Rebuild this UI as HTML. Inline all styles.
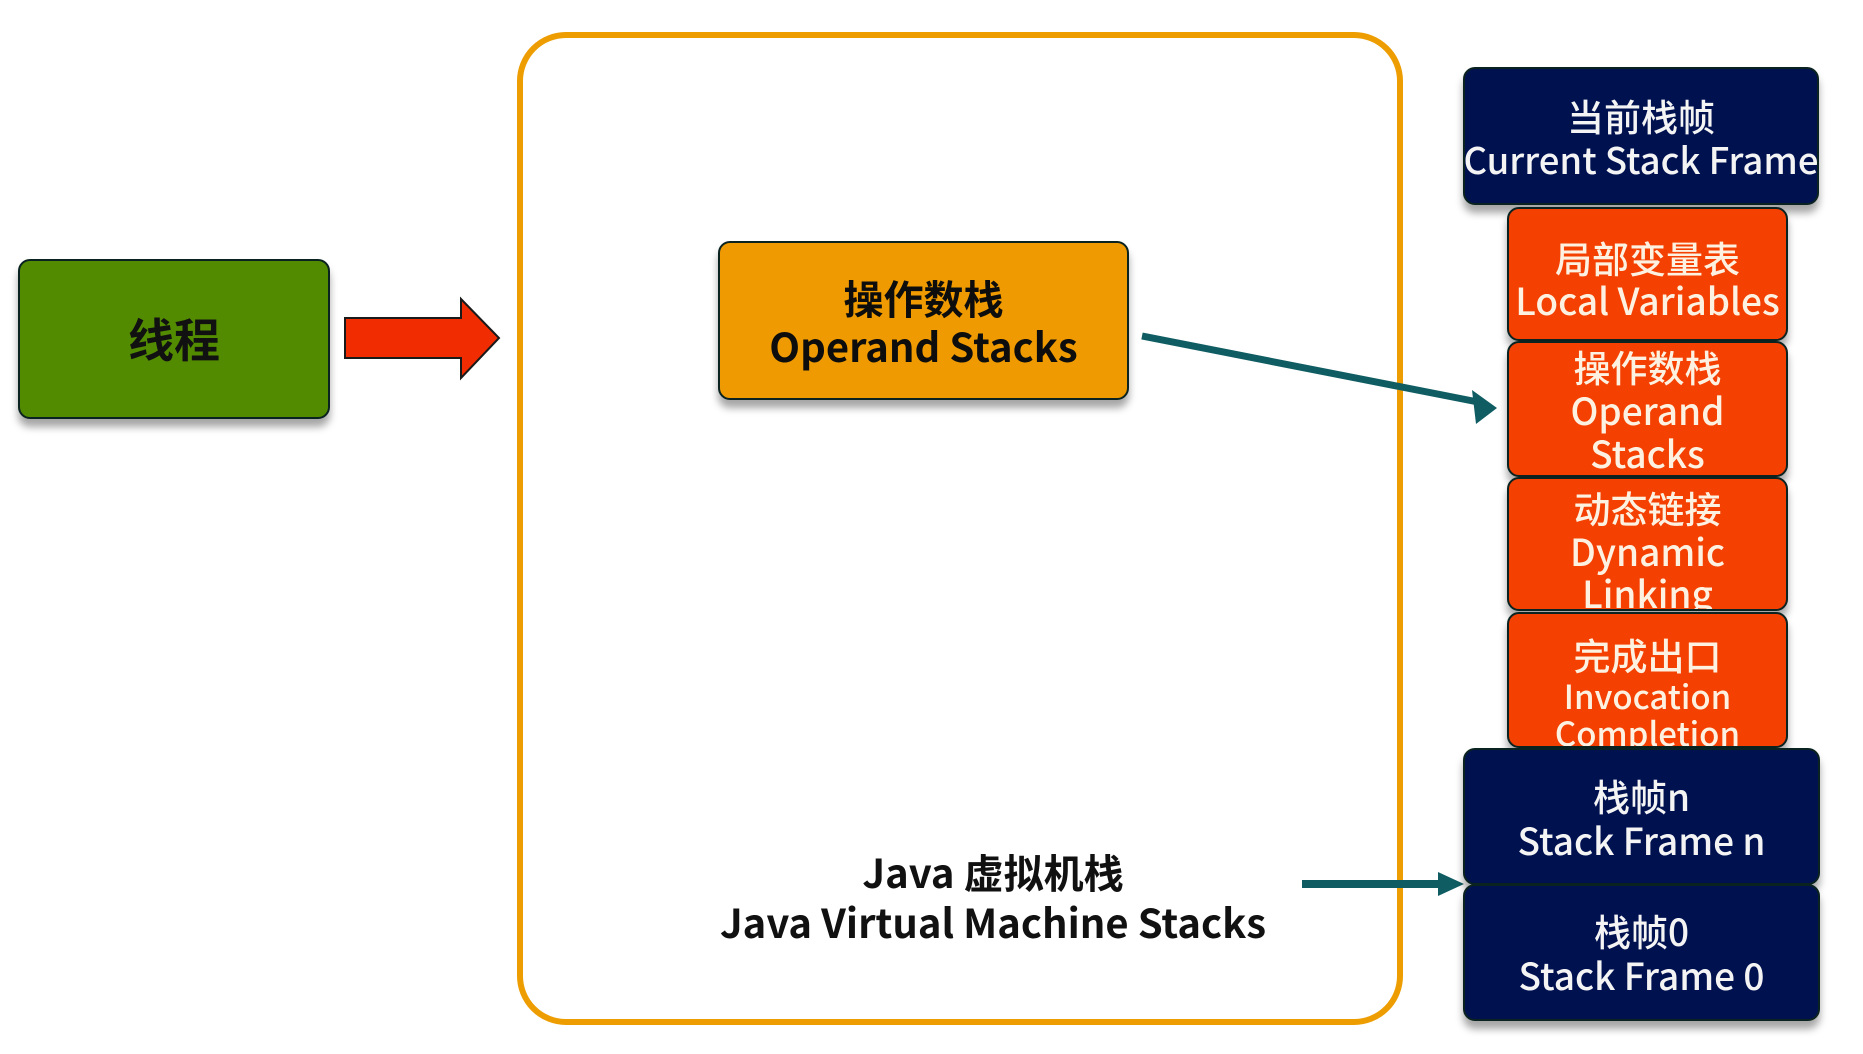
<!DOCTYPE html>
<html><head><meta charset="utf-8"><style>
html,body{margin:0;padding:0;background:#fff}
body{width:1863px;height:1054px;position:relative;overflow:hidden;font-family:"Noto Sans CJK SC","Liberation Sans",sans-serif}
.b{position:absolute;box-sizing:border-box;border:2.5px solid #0a2320;border-radius:12px;overflow:hidden;box-shadow:0 8px 8px rgba(0,0,0,.35)}
.l{position:absolute;left:-20px;right:-20px;text-align:center;height:44px;line-height:44px;white-space:nowrap}
.nv{background:#001150;color:#f4f4f4;font-size:37px;font-weight:500}
.rd{background:#f44000;color:#fdf2e2;font-size:37px;font-weight:500}
</style></head><body>
<svg width="1863" height="1054" style="position:absolute;left:0;top:0">
<rect x="520" y="35" width="880" height="987" rx="46" ry="46" fill="none" stroke="#ee9d00" stroke-width="6"/>
<polygon points="345,318 461,318 461,299 499,338 461,378 461,358 345,358" fill="#f02c00" stroke="#1a1a1a" stroke-width="2"/>
<line x1="1142" y1="336" x2="1478" y2="402" stroke="#0f5d62" stroke-width="7"/>
<polygon points="1497,408 1472,390 1476,424" fill="#0f5d62"/>
<line x1="1302" y1="884" x2="1445" y2="884" stroke="#0f5d62" stroke-width="8"/>
<polygon points="1464,884 1438,872 1438,896" fill="#0f5d62"/>
</svg>
<div class="b" style="left:18px;top:259px;width:312px;height:160px;background:#528b00;">
<div class="l" style="top:55px;font-size:46px;font-weight:bold;color:#111">线程</div></div>
<div class="b" style="left:718px;top:241px;width:411px;height:159px;background:#ef9a00;color:#0d0d0d;font-weight:bold">
<div class="l" style="top:32px;font-size:40px">操作数栈</div>
<div class="l" style="top:80px;font-size:40px">Operand Stacks</div></div>
<div style="position:absolute;left:688px;top:846px;width:610px;text-align:center;font-size:40px;font-weight:bold;color:#111;line-height:50px">Java 虚拟机栈<br>Java Virtual Machine Stacks</div>

<div class="b nv" style="left:1463px;top:67px;width:356px;height:138px">
<div class="l" style="top:24px">当前栈帧</div><div class="l" style="top:68px;font-size:36.5px">Current Stack Frame</div></div>

<div class="b rd" style="left:1507px;top:207px;width:281px;height:134px">
<div class="l" style="top:26px">局部变量表</div><div class="l" style="top:68px">Local Variables</div></div>
<div class="b rd" style="left:1507px;top:341px;width:281px;height:136px">
<div class="l" style="top:1px">操作数栈</div><div class="l" style="top:44px">Operand</div><div class="l" style="top:87px">Stacks</div></div>
<div class="b rd" style="left:1507px;top:477px;width:281px;height:134px">
<div class="l" style="top:6px">动态链接</div><div class="l" style="top:49px">Dynamic</div><div class="l" style="top:91px">Linking</div></div>
<div class="b rd" style="left:1507px;top:612px;width:281px;height:136px">
<div class="l" style="top:18px">完成出口</div><div class="l" style="top:59px;font-size:33px">Invocation</div><div class="l" style="top:96px;font-size:33px">Completion</div></div>

<div class="b nv" style="left:1463px;top:748px;width:357px;height:137px">
<div class="l" style="top:23px">栈帧n</div><div class="l" style="top:67px">Stack Frame n</div></div>
<div class="b nv" style="left:1463px;top:884px;width:357px;height:137px">
<div class="l" style="top:22px">栈帧0</div><div class="l" style="top:66px">Stack Frame 0</div></div>
</body></html>
